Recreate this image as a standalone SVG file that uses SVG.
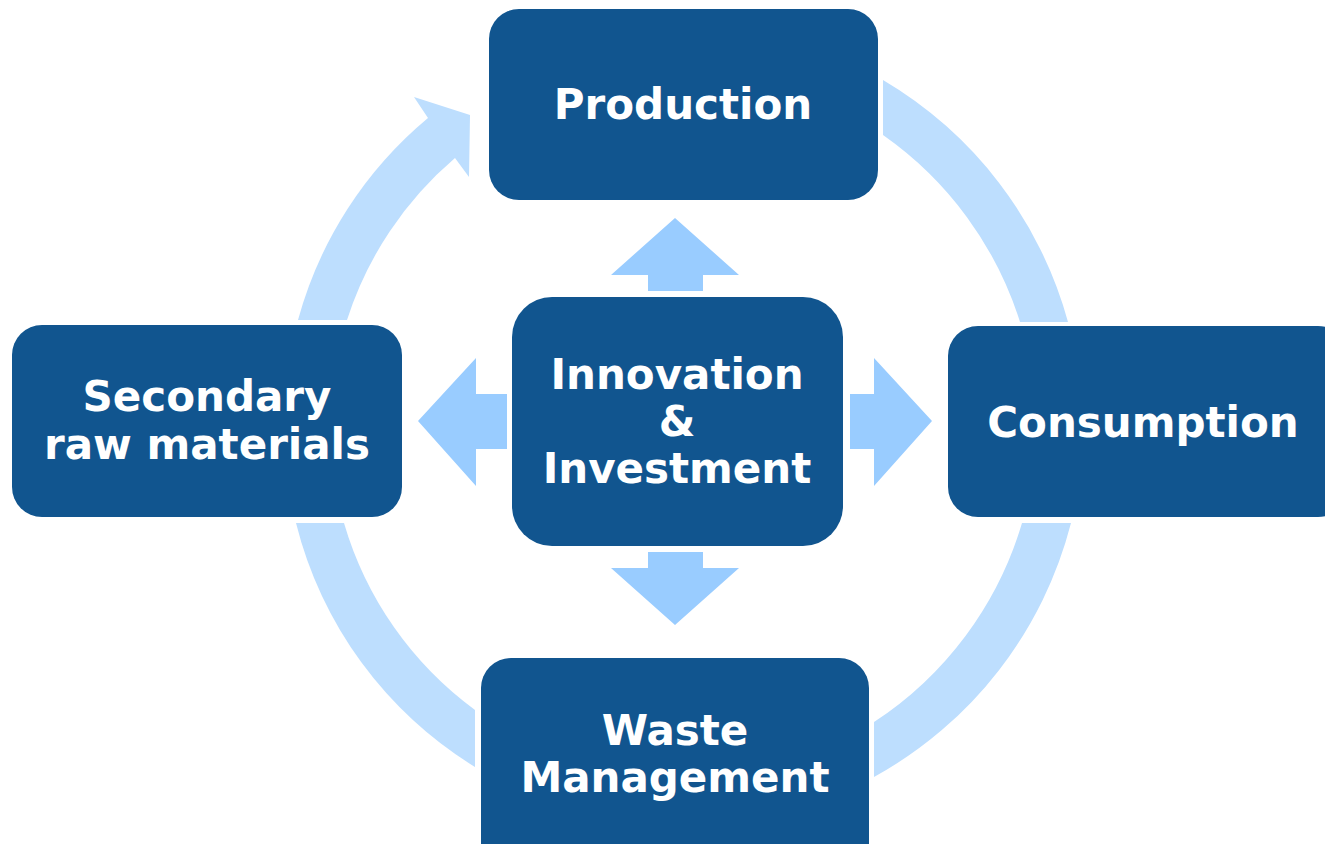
<svg xmlns="http://www.w3.org/2000/svg" width="1325" height="844" viewBox="0 0 1325 844">
<style>
.box{fill:#11558F}
.ring{fill:#BDDEFE}
.arr{fill:#99CCFF}
.t{font-family:"DejaVu Sans","Verdana",sans-serif;font-weight:bold;font-size:42px;fill:#FFFFFF;text-anchor:middle}
</style>
<rect width="1325" height="844" fill="#FFFFFF"/>
<g id="connectors">
<path class="ring" d="M883,80 A405,405 0 0 1 1068,322 L1020,322 A360,360 0 0 0 883,135 Z"/>
<path class="ring" d="M1071,523 A405,405 0 0 1 874,777 L874,722 A360,360 0 0 0 1022,523 Z"/>
<path class="ring" d="M475,767 A400,400 0 0 1 296,523 L344,523 A355,355 0 0 0 475,710 Z"/>
<path class="ring" d="M298,320 A400,400 0 0 1 428,118 L414,97 L470,115 L469,177 L455,158 A355,355 0 0 0 347,320 Z"/>
<polygon class="arr" points="675,218 739,275 703,275 703,291 648,291 648,275 611,275"/>
<polygon class="arr" points="648,552 703,552 703,568 739,568 675,625 611,568 648,568"/>
<polygon class="arr" points="418,421 476,358 476,394 507,394 507,449 476,449 476,486"/>
<polygon class="arr" points="850,394 874,394 874,358 932,421 874,486 874,449 850,449"/>
</g>
<g id="production">
<rect class="box" x="489" y="9" width="389" height="191" rx="30"/>
<text class="t" x="683" y="119">Production</text>
</g>
<g id="secondary">
<rect class="box" x="12" y="325" width="390" height="192" rx="30"/>
<text class="t" x="207" y="411">Secondary</text>
<text class="t" x="207" y="459">raw materials</text>
</g>
<g id="consumption">
<rect class="box" x="948" y="326" width="400" height="191" rx="30"/>
<text class="t" x="1143" y="437">Consumption</text>
</g>
<g id="waste">
<rect class="box" x="481" y="658" width="388" height="220" rx="30"/>
<text class="t" x="675" y="745">Waste</text>
<text class="t" x="675" y="792">Management</text>
</g>
<g id="innovation">
<rect class="box" x="512" y="297" width="331" height="249" rx="40"/>
<text class="t" x="677" y="389">Innovation</text>
<text class="t" x="677" y="436">&amp;</text>
<text class="t" x="677" y="483">Investment</text>
</g>
</svg>
